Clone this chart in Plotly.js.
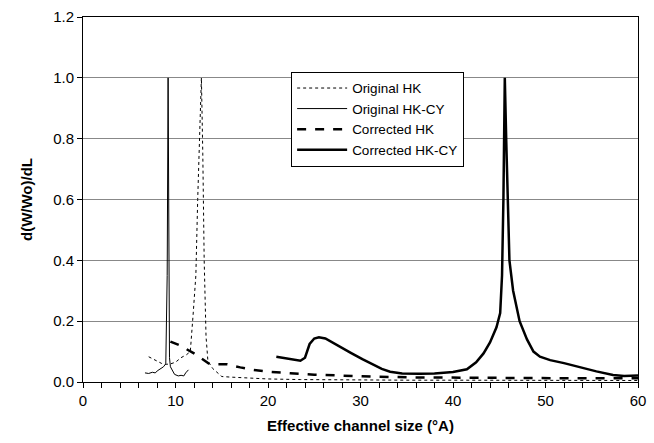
<!DOCTYPE html>
<html><head><meta charset="utf-8">
<script src="https://cdn.plot.ly/plotly-3.0.1.min.js"></script>
<style>html,body{margin:0;padding:0;background:#fff}#chart{width:654px;height:443px}</style>
</head><body><div id="chart"></div>
<script>
const origHK_x = [7.1, 7.8, 8.5, 9.0, 9.5, 10.0, 10.6, 11.2, 11.6, 11.9, 12.2, 12.4, 12.6, 12.8, 12.95, 13.1, 13.3, 13.5, 14.0, 14.5, 15.0, 16.0, 17.0, 18.0, 20.0, 23.5, 27.0, 30.0, 35.0, 40.0, 45.0, 50.0, 55.0, 60.0];
const origHK_y = [0.083, 0.072, 0.061, 0.058, 0.06, 0.065, 0.08, 0.09, 0.1, 0.22, 0.35, 0.6, 0.8, 1.0, 0.75, 0.4, 0.15, 0.07, 0.045, 0.03, 0.018, 0.016, 0.014, 0.012, 0.01, 0.008, 0.007, 0.006, 0.006, 0.006, 0.006, 0.006, 0.006, 0.005];
const origHKCY_x = [6.7, 7.1, 7.5, 7.8, 8.1, 8.4, 8.7, 8.95, 9.1, 9.2, 9.25, 9.3, 9.35, 9.45, 9.6, 9.9, 10.3, 10.6, 10.9, 11.1, 11.4];
const origHKCY_y = [0.03, 0.028, 0.032, 0.03, 0.038, 0.045, 0.05, 0.06, 0.35, 1.0, 0.55, 0.3, 0.08, 0.05, 0.04, 0.025, 0.02, 0.022, 0.02, 0.03, 0.04];
const corrHK_x = [9.45, 10.5, 12.0, 13.0, 13.6, 14.5, 15.6, 17.0, 18.4, 20.0, 21.3, 22.4, 25.0, 28.9, 32.0, 36.4, 40.0, 45.0, 50.0, 55.0, 60.0];
const corrHK_y = [0.133, 0.12, 0.094, 0.075, 0.061, 0.058, 0.058, 0.048, 0.04, 0.034, 0.03, 0.029, 0.024, 0.02, 0.017, 0.015, 0.014, 0.013, 0.013, 0.012, 0.012];
const corrHKCY_x = [20.9, 22.0, 23.5, 24.0, 24.5, 25.0, 25.5, 26.2, 27.0, 27.8, 29.0, 30.2, 31.4, 32.3, 33.2, 34.5, 36.4, 38.0, 40.0, 41.5, 42.5, 43.3, 44.0, 44.7, 45.1, 45.3, 45.45, 45.6, 45.75, 45.9, 46.1, 46.5, 47.2, 48.0, 48.7, 49.4, 50.5, 52.0, 53.7, 55.5, 57.3, 58.5, 60.0];
const corrHKCY_y = [0.083, 0.078, 0.07, 0.08, 0.125, 0.143, 0.147, 0.143, 0.13, 0.115, 0.095, 0.075, 0.056, 0.043, 0.034, 0.028, 0.027, 0.028, 0.033, 0.042, 0.065, 0.094, 0.13, 0.18, 0.227, 0.35, 0.6, 1.0, 0.8, 0.6, 0.4, 0.3, 0.2, 0.14, 0.1, 0.083, 0.072, 0.062, 0.048, 0.035, 0.023, 0.02, 0.021];

const tickFont = {family: 'Liberation Sans, Arial, sans-serif', size: 15, color: '#000'};
const titleFont = {family: 'Liberation Sans, Arial, sans-serif', size: 15, color: '#000', weight: 'bold'};

const traces = [
  {x: origHK_x, y: origHK_y, name: 'Original HK', mode: 'lines', line: {color: '#000', width: 1, dash: 'dot'}},
  {x: origHKCY_x, y: origHKCY_y, name: 'Original HK-CY', mode: 'lines', line: {color: '#000', width: 1}},
  {x: corrHK_x, y: corrHK_y, name: 'Corrected HK', mode: 'lines', line: {color: '#000', width: 2.5, dash: 'dash'}},
  {x: corrHKCY_x, y: corrHKCY_y, name: 'Corrected HK-CY', mode: 'lines', line: {color: '#000', width: 2.5}}
];

const layout = {
  width: 654, height: 443,
  margin: {l: 83, r: 16, t: 17, b: 61},
  paper_bgcolor: '#fff', plot_bgcolor: '#fff',
  showlegend: true,
  legend: {x: 0.375, y: 0.85, xanchor: 'left', yanchor: 'top', bgcolor: '#fff', bordercolor: '#000', borderwidth: 1,
    itemwidth: 50,
    font: {family: 'Liberation Sans, Arial, sans-serif', size: 13.5, color: '#000'}},
  xaxis: {
    range: [0, 60], dtick: 10, tick0: 0, ticks: 'outside', ticklen: 5, tickcolor: '#000',
    showline: true, linecolor: '#000', linewidth: 1, mirror: true, showgrid: false, zeroline: false,
    tickfont: tickFont,
    minor: {dtick: 2, ticks: 'outside', ticklen: 5, tickcolor: '#000', showgrid: false},
    title: {text: 'Effective channel size (°A)', font: titleFont, standoff: 12}
  },
  yaxis: {
    range: [0, 1.2], dtick: 0.2, tick0: 0, tickformat: '.1f', ticks: 'outside', ticklen: 5, tickcolor: '#000',
    showline: true, linecolor: '#000', linewidth: 1, mirror: true, showgrid: true, gridcolor: '#888', gridwidth: 1,
    zeroline: false, tickfont: tickFont,
    title: {text: 'd(W/Wo)/dL', font: titleFont, standoff: 16}
  }
};
Plotly.newPlot('chart', traces, layout, {displayModeBar: false, staticPlot: true});
</script></body></html>
